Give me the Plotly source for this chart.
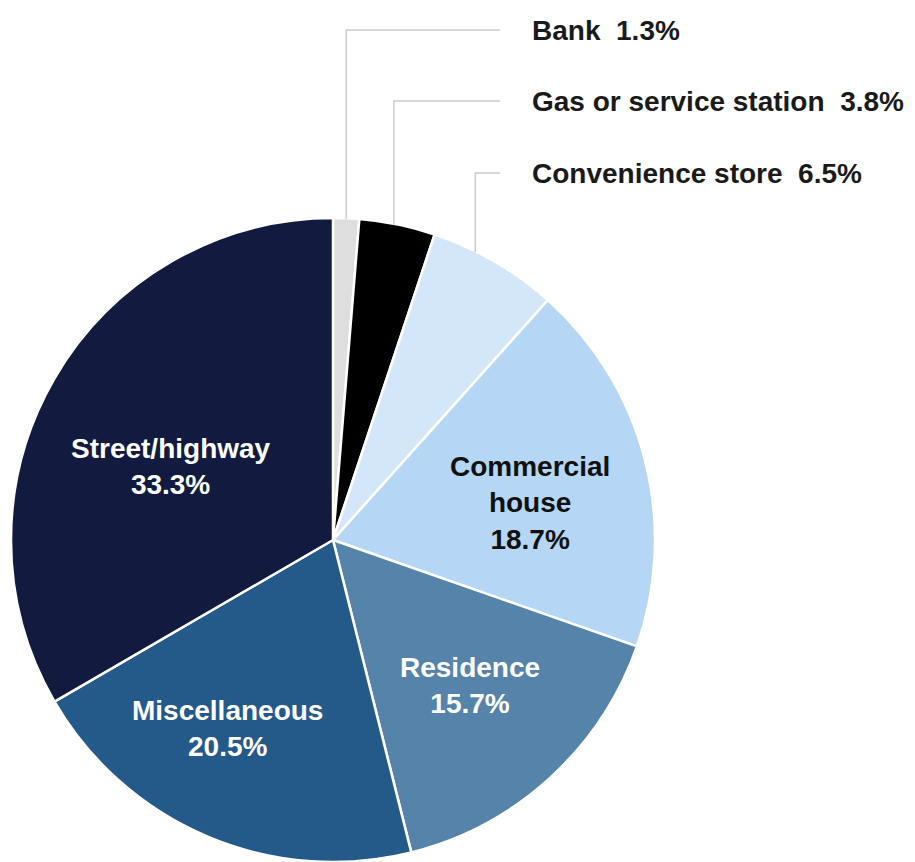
import math
import plotly.graph_objects as go

# ---- data ----
categories = ["Bank", "Gas or service station", "Convenience store",
              "Commercial house", "Residence", "Miscellaneous", "Street/highway"]
inside_text = [None, None, None, "Commercial<br>house", "Residence", "Miscellaneous", "Street/highway"]
values = [1.3, 3.8, 6.5, 18.7, 15.7, 20.5, 33.3]
colors = ["#dedede", "#000000", "#d4e7f8", "#b5d6f4", "#5583aa", "#245a8a", "#121a40"]
text_colors = [None, None, None, "#111111", "#ffffff", "#ffffff", "#ffffff"]

# ---- layout parameters ----
W, H = 915, 862
CX, CY, R = 333, 540, 323           # pie centre / radius in pixels
label_r = [None, None, None, 0.62, 0.62, 0.67, 0.55]       # inside label radius (fraction of R)
label_da = [None, None, None, 3.8, -0.9, 6.4, -5.5]        # angle tweak (deg)
leader_frac = [0.5, 0.45, 0.33]                             # where leader leaves slice
out_text_x = 530
out_line_x = 500
out_y = [30, 101, 173]
FONT = "Liberation Sans"
FS = 28


def px(x):
    return x / W


def py(y):
    return 1 - y / H


total = sum(values)
starts, ends = [], []
acc = 0
for v in values:
    starts.append(acc / total * 360)
    acc += v
    ends.append(acc / total * 360)

fig = go.Figure(go.Pie(
    labels=categories, values=values, sort=False, direction="clockwise", rotation=0,
    marker=dict(colors=colors, line=dict(color="#ffffff", width=2.5)),
    textinfo="none", hoverinfo="label+percent", showlegend=False,
    domain=dict(x=[(CX - R) / W, (CX + R) / W], y=[0, 2 * (H - CY) / H]),
))

annotations = []
shapes = []
for i, v in enumerate(values):
    if inside_text[i] is not None:
        ang = math.radians((starts[i] + ends[i]) / 2 + label_da[i])
        r = label_r[i] * R
        x = CX + r * math.sin(ang)
        y = CY - r * math.cos(ang)
        annotations.append(dict(
            x=px(x), y=py(y), xref="paper", yref="paper", showarrow=False,
            text=f"<b>{inside_text[i]}<br>{v:.1f}%</b>", align="center",
            font=dict(family=FONT, size=FS, color=text_colors[i]),
            xanchor="center", yanchor="middle"))
    else:
        ang = math.radians(starts[i] + leader_frac[i] * (ends[i] - starts[i]))
        rx = CX + R * math.sin(ang)
        ry = CY - R * math.cos(ang)
        ly = out_y[i]
        shapes.append(dict(type="path", xref="paper", yref="paper",
                           path=f"M {px(rx)} {py(ry + 2)} L {px(rx)} {py(ly)} L {px(out_line_x)} {py(ly)}",
                           line=dict(color="#cccccc", width=1.5)))
        annotations.append(dict(
            x=px(out_text_x), y=py(ly), xref="paper", yref="paper", showarrow=False,
            text=f"<b>{categories[i]}  {v:.1f}%</b>", align="left",
            font=dict(family=FONT, size=FS, color="#1a1a1a"),
            xanchor="left", yanchor="middle"))

fig.update_layout(
    width=W, height=H, margin=dict(l=0, r=0, t=0, b=0),
    paper_bgcolor="#ffffff", plot_bgcolor="#ffffff",
    annotations=annotations, shapes=shapes,
)

fig.write_html("out.html", config={"displayModeBar": False},
               post_script="document.body.style.margin='0';document.body.style.overflow='hidden';")
